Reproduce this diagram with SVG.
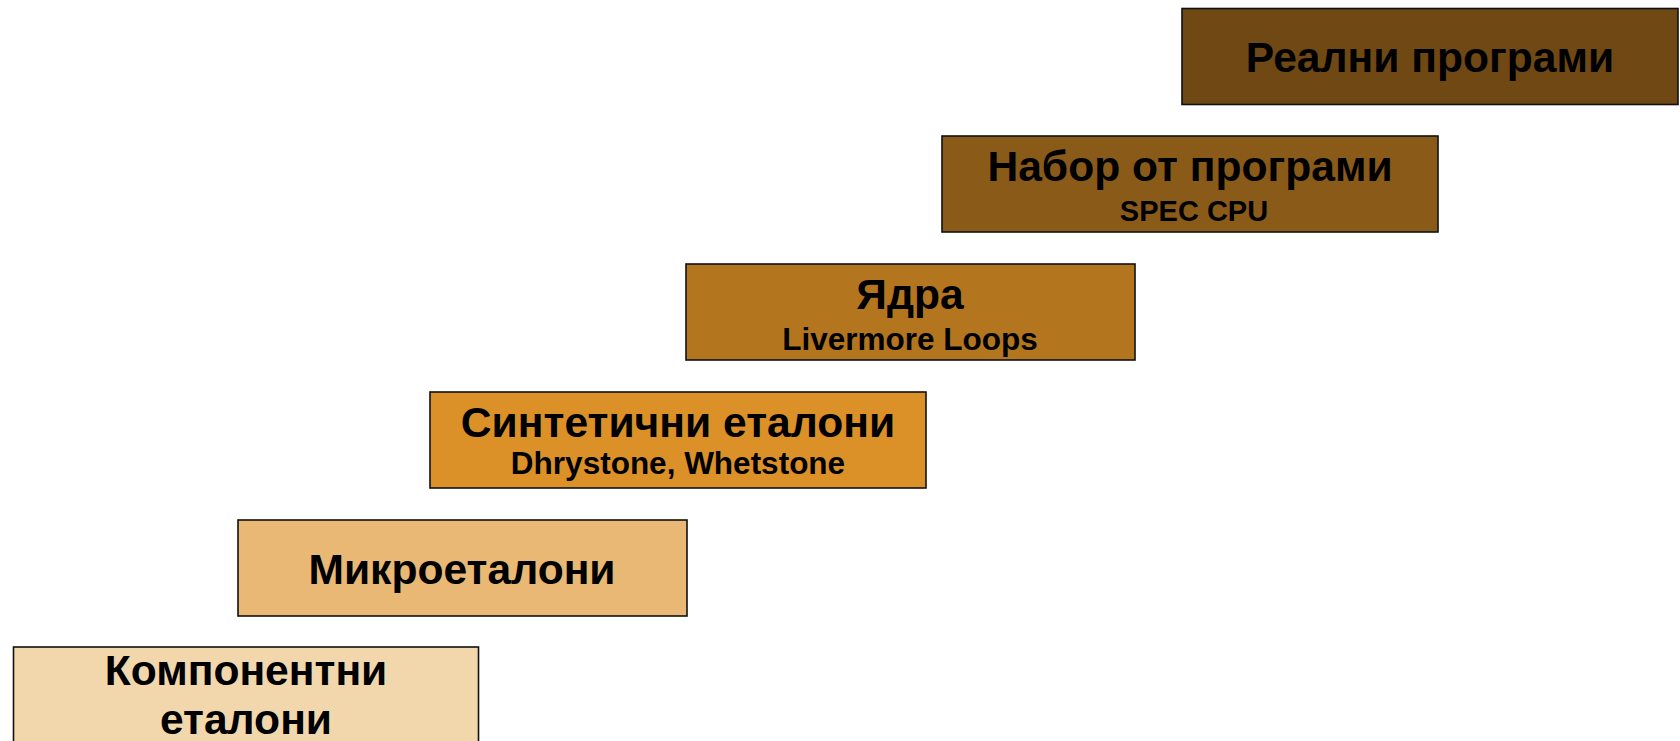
<svg xmlns="http://www.w3.org/2000/svg" width="1680" height="741" viewBox="0 0 1680 741">
<style>
.box{stroke:#111;stroke-width:1.6}
.t{font-family:"Liberation Sans",Arial,sans-serif;font-weight:bold;fill:#000;text-anchor:middle}
.h{font-size:42.6px}
.s{font-size:31.5px}
.s2{font-size:29px}
</style>
<rect width="1680" height="741" fill="#fff"/>
<g id="real">
<rect class="box" x="1182" y="8.5" width="496" height="96" fill="#6f4814"/>
<text class="t h" x="1430" y="72">Реални програми</text>
</g>
<g id="suite">
<rect class="box" x="942" y="136" width="496" height="96" fill="#8a5a19"/>
<text class="t h" x="1190" y="181">Набор от програми</text>
<text class="t s2" x="1194" y="221">SPEC CPU</text>
</g>
<g id="kernels">
<rect class="box" x="686" y="264" width="449" height="96" fill="#b3761f"/>
<text class="t h" x="910" y="309">Ядра</text>
<text class="t s" x="910" y="350">Livermore Loops</text>
</g>
<g id="synthetic">
<rect class="box" x="430" y="392" width="496" height="96" fill="#db9128"/>
<text class="t h" x="678" y="437">Синтетични еталони</text>
<text class="t s" x="678" y="474">Dhrystone, Whetstone</text>
</g>
<g id="micro">
<rect class="box" x="238" y="520" width="449" height="96" fill="#e8b874"/>
<text class="t h" x="462" y="584">Микроеталони</text>
</g>
<g id="component">
<rect class="box" x="13.5" y="647" width="465" height="110" fill="#f2d7ad"/>
<text class="t h" x="246" y="685">Компонентни</text>
<text class="t h" x="246" y="734">еталони</text>
</g>
<g id="connectors"></g>
</svg>
